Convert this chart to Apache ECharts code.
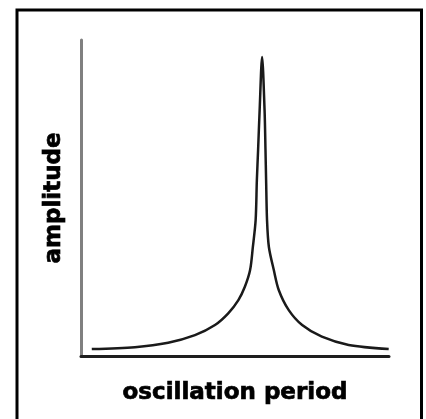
<!DOCTYPE html>
<html>
<head>
<meta charset="utf-8">
<script src="https://cdn.jsdelivr.net/npm/echarts@6/dist/echarts.min.js"></script>
<style>
  html, body { margin: 0; padding: 0; background: #ffffff; }
  #chart { width: 426px; height: 419px; }
</style>
</head>
<body>
<div id="chart"></div>
<script>
// resonance curve (x: period 0-100, y: amplitude 0-100)
const periods = [3.5, 17.5, 28.3, 37.0, 43.5, 47.8, 51.1, 53.2, 54.9, 55.8, 56.7, 57.1, 57.5, 58.0, 58.8,
  59.6, 59.9, 60.1, 60.4, 61.0, 62.6, 64.2, 67.4, 71.8, 78.2, 86.9, 99.9]
const amplitudes = [2.2, 2.8, 4.2, 6.6, 9.8, 13.5, 17.7, 21.9, 27.2, 34.5, 43.0, 55.7, 65.2, 77.8, 94.6,
  77.8, 65.2, 55.7, 43.0, 34.5, 27.2, 20.9, 14.6, 9.8, 6.1, 3.5, 2.2]
const xTitle = 'oscillation period'
const yTitle = 'amplitude'

const chart = echarts.init(document.getElementById('chart'))

const labelFont = {
  color: '#000000',
  fontFamily: 'DejaVu Sans',
  fontWeight: 'bold',
  fontSize: 23,
  textBorderColor: '#000000',
  textBorderWidth: 0.7,
}

chart.setOption({
  animation: false,
  backgroundColor: '#ffffff',
  grid: {
    left: 81,
    right: 37,
    top: 40,
    bottom: 63,
  },
  graphic: [
    {
      type: 'polyline',
      shape: { points: [[17, 425], [17, 10], [421.5, 10], [421.5, 425]] },
      style: { stroke: '#000000', lineWidth: 3, fill: null },
      silent: true,
    },
  ],
  xAxis: {
    type: 'value',
    min: 0,
    max: 100,
    name: xTitle,
    nameLocation: 'middle',
    nameGap: 26,
    nameTextStyle: labelFont,
    axisLine: { lineStyle: { color: '#1e1e1e', width: 3 } },
    axisTick: { show: false },
    axisLabel: { show: false },
    splitLine: { show: false },
  },
  yAxis: {
    type: 'value',
    min: 0,
    max: 100,
    name: yTitle,
    nameLocation: 'middle',
    nameGap: 15,
    nameTextStyle: labelFont,
    axisLine: { lineStyle: { color: '#808080', width: 3 } },
    axisTick: { show: false },
    axisLabel: { show: false },
    splitLine: { show: false },
  },
  series: [
    {
      type: 'line',
      data: periods.map((p, i) => [p, amplitudes[i]]),
      smooth: 0.3,
      symbol: 'none',
      lineStyle: { color: '#1a1a1a', width: 2.5 },
    },
  ],
})
</script>
</body>
</html>
